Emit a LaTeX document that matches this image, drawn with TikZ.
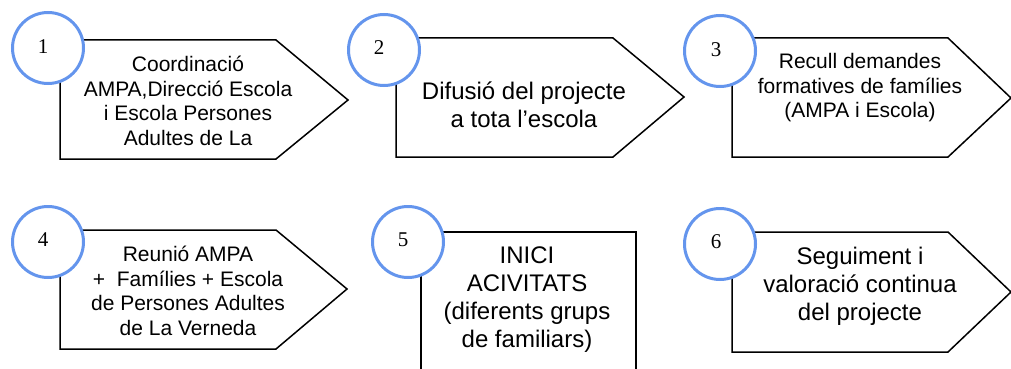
\documentclass[tikz,border=0pt]{standalone}
\usepackage{fontspec}
\setmainfont{Liberation Sans}
\newfontfamily\numfont{Liberation Serif}
\begin{document}
\begin{tikzpicture}[x=1pt,y=-1pt,
  shapeline/.style={draw=black,line width=1.5pt,line join=miter},
  numcircle/.style={circle,draw={rgb,255:red,100;green,149;blue,237},line width=3pt,fill=white,minimum size=71pt,inner sep=0pt},
  numtext/.style={font=\numfont\fontsize{21}{24}\selectfont,inner sep=0pt},
  smalltext/.style={align=center,font=\fontsize{21}{24.5}\selectfont,inner sep=0pt},
  bigtext/.style={align=center,font=\fontsize{24}{28}\selectfont,inner sep=0pt}]
\useasboundingbox (0,0) rectangle (1011,369);
\clip (0,0) rectangle (1011,369);
% shapes
\draw[shapeline] (60,40) -- (276,40) -- (348,100) -- (276,159) -- (60,159) -- cycle;
\draw[shapeline] (396,38) -- (613,38) -- (684,97) -- (613,157) -- (396,157) -- cycle;
\draw[shapeline] (732,38) -- (948,38) -- (1011,98) -- (948,157) -- (732,157) -- cycle;
\draw[shapeline] (60,230) -- (276,230) -- (347,289) -- (276,349) -- (60,349) -- cycle;
\draw[shapeline] (421,380) -- (421,232) -- (636,232) -- (636,380);
\draw[shapeline] (732,232) -- (948,232) -- (1011,292) -- (948,352) -- (732,352) -- cycle;
% texts
\node[smalltext] (t1) at (188,101) {Coordinació\\AMPA,Direcció Escola\\i Escola Persones\\Adultes de La};
\node[bigtext] (t2) at (524,105) {Difusió del projecte\\a tota l’escola};
\node[smalltext] (t3) at (860,88) {Recull demandes\\formatives de famílies\\(AMPA i Escola)};
\node[smalltext] (t4) at (188,291) {Reunió AMPA\\+\ \ Famílies + Escola\\de Persones Adultes\\de La Verneda};
\node[bigtext] (t5) at (527,300) {INICI\\ACIVITATS\\(diferents grups\\de familiars)};
\node[bigtext] (t6) at (860,286) {Seguiment i\\valoració continua\\del projecte};
% circles
\node[numcircle] (c1) at (48,48) {};
\node[numcircle] (c2) at (384,50) {};
\node[numcircle] (c3) at (720,51) {};
\node[numcircle] (c4) at (48,242) {};
\node[numcircle] (c5) at (408,242) {};
\node[numcircle] (c6) at (720,244) {};
\node[numtext] (n1) at (43,47) {1};
\node[numtext] (n2) at (379,48) {2};
\node[numtext] (n3) at (716,50) {3};
\node[numtext] (n4) at (43,240) {4};
\node[numtext] (n5) at (403,240) {5};
\node[numtext] (n6) at (716,242) {6};
\end{tikzpicture}
\end{document}
